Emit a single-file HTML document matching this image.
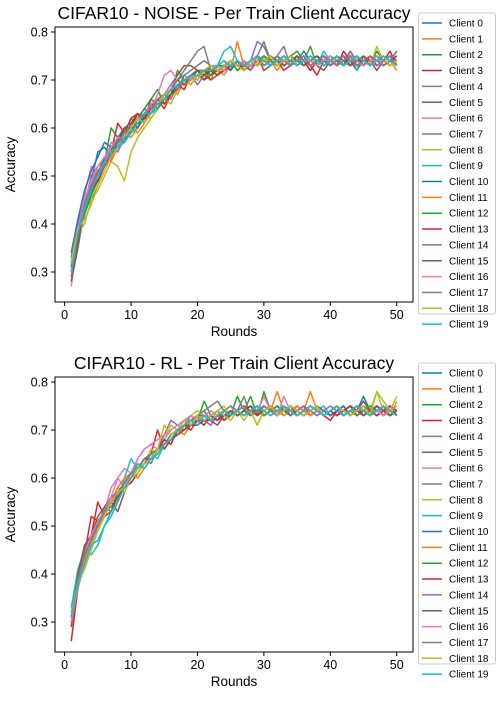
<!DOCTYPE html>
<html><head><meta charset="utf-8"><style>
body{margin:0;background:#fff;width:500px;height:700px;overflow:hidden}
svg{font-family:"Liberation Sans","DejaVu Sans",sans-serif}
</style></head><body>
<svg id="s" width="500" height="700" viewBox="0 0 500 700"></svg>
<script>
const rounds=[];for(let i=1;i<=50;i++)rounds.push(i);
const xTicks=[0,10,20,30,40,50];
const yTicks=[0.3,0.4,0.5,0.6,0.7,0.8];
const yTickLabels=["0.3","0.4","0.5","0.6","0.7","0.8"];
const clientNames=["Client 0","Client 1","Client 2","Client 3","Client 4","Client 5","Client 6","Client 7","Client 8","Client 9","Client 10","Client 11","Client 12","Client 13","Client 14","Client 15","Client 16","Client 17","Client 18","Client 19"];
const noiseSeries=[
[33,40,45,49,55,56,54,57,60,59,62,64,63,66,67,69,68,70,71,70,72,71,73,72,74,73,72,74,75,74,73,74,75,73,74,76,74,73,74,75,74,73,74,75,73,74,75,74,73,74],
[30,38,44,47,50,53,55,57,59,58,60,63,62,64,66,68,67,70,69,71,72,70,73,74,72,78,73,74,75,73,74,72,74,75,73,74,73,74,75,74,73,74,76,73,74,74,75,73,74,72],
[31,39,43,45,48,53,60,58,57,61,62,64,66,68,65,67,72,70,69,71,70,72,71,73,74,72,73,74,73,75,74,73,74,75,76,74,77,73,74,75,73,74,73,75,74,73,76,74,73,74],
[29,37,42,47,51,52,55,61,59,62,63,61,65,66,64,67,69,68,71,72,70,71,72,73,72,74,73,72,74,75,73,74,72,73,74,75,73,71,74,75,73,76,74,72,75,74,73,74,76,73],
[32,40,44,50,52,53,56,55,58,61,60,63,65,64,67,66,69,70,71,69,71,72,71,72,73,74,72,74,78,77,74,75,73,74,75,74,72,74,73,74,75,73,76,74,73,74,75,73,74,75],
[28,35,43,47,50,54,53,58,57,60,63,62,66,65,67,69,71,73,73,72,71,70,71,73,74,73,72,74,75,72,73,74,75,73,74,75,74,73,72,74,75,73,74,75,73,74,72,74,75,74],
[27,38,46,52,51,53,57,56,59,60,62,61,64,67,71,72,70,69,70,71,72,73,72,71,73,74,73,74,73,74,75,74,73,74,74,73,74,75,73,74,75,74,73,74,75,73,74,75,73,74],
[30,36,42,46,49,52,55,57,58,59,61,62,64,65,67,68,70,72,74,76,77,72,71,73,72,74,72,73,75,78,74,75,77,73,74,75,73,74,75,74,73,74,75,73,74,75,74,73,74,76],
[31,38,40,45,47,50,53,52,49,55,58,60,62,64,66,65,68,70,69,71,71,72,73,71,74,73,72,74,73,74,75,73,74,75,73,74,75,73,74,73,75,74,73,74,75,73,77,74,73,74],
[29,37,43,48,50,52,54,56,57,59,60,62,63,64,66,68,69,70,70,71,72,72,73,76,77,74,73,74,75,74,73,75,74,73,74,75,74,73,76,74,73,74,75,72,74,75,73,74,75,73],
[34,41,47,51,54,57,56,58,60,60,61,62,64,65,66,67,69,70,71,70,72,72,73,73,72,74,73,74,73,75,74,73,74,75,74,73,74,75,74,73,74,75,73,74,74,75,73,74,75,74],
[30,38,44,48,52,54,53,56,59,60,59,61,63,66,66,68,69,69,70,71,71,72,73,72,74,73,74,73,74,75,73,74,75,73,74,75,74,73,74,75,73,74,75,73,74,75,74,73,74,74],
[32,39,42,46,50,53,55,58,58,59,62,63,65,64,66,67,68,71,70,72,72,71,73,73,74,72,73,74,73,75,74,73,74,73,75,74,73,74,75,73,74,73,75,74,73,74,75,73,74,75],
[31,37,43,47,49,52,54,57,60,61,63,62,64,66,65,67,69,70,71,72,71,72,71,72,73,74,72,74,73,74,73,74,75,74,73,74,72,74,75,73,74,75,73,74,73,75,74,73,74,75],
[33,40,45,48,50,52,55,57,58,60,62,63,64,65,67,69,68,70,71,70,72,73,72,73,74,73,74,72,75,73,74,75,73,74,75,74,73,74,75,73,74,75,74,73,74,75,73,74,75,73],
[28,36,44,48,51,53,55,57,59,62,60,63,64,66,67,68,70,69,71,72,71,73,72,73,74,73,72,74,73,74,75,74,73,74,75,73,74,75,73,74,75,74,73,74,75,73,74,75,74,73],
[30,39,45,49,52,54,56,58,58,60,62,63,65,66,67,69,70,71,70,71,72,73,73,72,74,73,74,73,75,74,73,74,75,73,74,75,74,73,74,75,73,74,75,74,73,74,75,73,74,73],
[29,38,44,48,51,53,55,57,59,60,62,63,64,66,67,68,70,71,72,73,74,73,72,73,74,73,72,74,75,73,74,75,74,73,74,75,73,74,75,74,73,74,75,73,74,75,74,73,74,76],
[32,39,41,44,48,51,54,56,58,60,62,61,63,65,67,68,69,70,71,70,72,73,72,73,74,73,72,74,73,74,75,73,74,75,73,74,75,74,73,74,75,73,74,75,74,73,74,75,73,74],
[30,38,43,47,50,53,55,56,58,59,61,63,63,65,66,68,69,70,71,71,72,72,73,74,73,74,73,74,75,74,73,74,75,74,73,74,75,74,73,74,75,73,74,75,74,73,74,75,74,73]];
const rlSeries=[
[31,39,44,48,51,53,56,57,59,60,62,63,64,66,67,68,69,70,71,71,72,72,73,73,73,74,73,74,74,73,74,73,74,74,73,74,73,74,73,74,73,74,73,74,77,74,73,74,73,74],
[30,38,43,47,50,52,55,58,60,59,61,63,64,65,67,68,70,69,71,72,72,71,73,74,73,74,73,74,75,73,74,78,74,73,75,74,78,74,73,74,75,73,74,73,74,75,74,73,75,74],
[32,40,44,47,50,53,54,56,59,61,62,64,65,66,68,67,70,71,73,72,76,73,72,74,73,77,74,77,73,78,74,73,75,74,73,74,75,74,73,74,73,74,75,73,74,73,74,75,73,74],
[26,37,45,48,55,52,53,57,58,59,61,63,65,70,66,68,69,71,70,72,71,73,72,74,73,74,73,74,75,73,74,74,75,73,74,75,73,74,73,72,74,75,73,74,75,74,73,74,75,73],
[33,39,44,47,50,52,55,56,58,60,62,63,64,66,69,72,71,70,72,73,72,71,73,72,74,73,74,75,74,73,74,75,74,73,74,75,74,73,74,73,74,75,73,74,73,74,75,74,73,74],
[29,38,46,47,51,53,55,53,57,60,62,64,65,66,67,69,70,72,71,73,72,73,74,72,73,74,75,74,73,75,74,73,74,75,74,73,74,75,73,74,73,74,75,74,76,74,73,74,75,73],
[30,37,42,46,50,53,58,60,62,61,64,66,67,66,68,70,71,72,72,73,74,72,73,74,75,73,74,75,73,74,75,74,73,74,75,74,73,74,73,74,75,73,74,75,74,73,74,73,75,74],
[31,38,43,47,50,52,55,57,59,60,62,64,63,66,67,69,70,71,72,73,74,72,73,74,75,74,77,73,74,77,74,73,75,74,73,74,75,74,73,74,73,74,75,73,74,73,75,74,73,74],
[32,39,42,46,49,53,55,58,57,60,61,63,66,65,68,71,70,72,73,74,73,72,74,75,73,74,72,74,71,74,75,73,74,75,74,73,74,75,73,74,73,74,75,74,73,74,78,74,73,76],
[33,41,45,44,46,50,52,55,60,64,62,63,65,64,67,68,69,70,71,72,72,73,74,73,74,73,74,75,74,73,74,75,73,74,75,74,73,74,75,73,74,73,74,75,74,73,74,75,73,74],
[31,38,44,48,51,53,55,57,59,60,62,63,64,66,67,68,70,70,71,72,72,73,72,73,74,73,74,73,74,75,74,73,74,75,74,73,74,75,74,73,74,75,73,74,73,74,75,74,73,74],
[30,37,43,47,50,53,55,58,60,61,60,62,64,66,67,68,69,71,72,71,73,72,73,74,73,74,73,74,75,73,74,75,73,74,75,74,73,74,73,74,75,73,74,75,74,73,74,75,73,74],
[31,39,44,48,51,53,56,57,59,61,63,62,64,66,67,69,70,71,72,73,73,72,73,74,73,74,73,74,75,73,74,75,74,73,74,73,74,75,73,74,75,73,74,73,74,75,74,73,74,73],
[30,38,44,52,51,53,55,57,58,60,62,63,64,66,68,67,70,71,71,72,72,73,72,73,74,73,74,75,73,74,75,73,74,75,74,73,74,75,73,74,73,74,75,74,73,74,73,74,75,74],
[32,39,45,48,50,54,56,57,59,60,62,63,65,66,67,69,70,71,72,72,73,72,73,74,73,74,73,74,75,74,73,74,75,73,74,75,74,73,74,75,74,73,74,75,73,74,75,73,74,73],
[29,40,46,48,52,54,53,56,58,60,62,64,64,66,67,68,69,70,71,72,73,72,71,73,74,73,74,73,74,75,74,73,74,75,73,74,75,74,73,74,75,73,74,75,73,74,75,74,73,74],
[30,38,44,48,51,53,56,60,58,61,64,66,67,68,69,70,71,72,73,72,73,74,73,74,73,74,75,73,74,77,74,73,77,74,73,74,75,74,73,74,75,73,74,75,74,73,74,73,74,75],
[31,39,44,47,50,53,55,57,59,61,62,64,65,66,67,69,70,71,72,73,74,75,76,74,73,74,75,73,74,75,74,73,74,75,74,73,74,75,73,74,75,74,73,74,75,73,74,75,74,73],
[32,38,41,45,49,52,55,57,58,60,62,63,64,66,71,69,70,72,71,73,72,73,74,73,72,74,73,74,71,74,75,73,74,75,74,73,74,75,73,74,75,74,73,74,75,73,78,76,74,77],
[31,38,42,46,47,50,53,55,58,60,63,62,64,65,67,68,70,71,72,71,73,72,73,74,73,74,73,74,75,74,73,74,75,74,73,74,75,74,73,74,75,73,74,75,74,73,74,75,74,73]];
const colors=["#1f77b4","#ff7f0e","#2ca02c","#d62728","#9467bd","#8c564b","#e377c2","#7f7f7f","#bcbd22","#17becf"];
const NS="http://www.w3.org/2000/svg";
const svg=document.getElementById('s');
function mk(tag,attrs,parent){const e=document.createElementNS(NS,tag);for(const k in attrs)e.setAttribute(k,attrs[k]);(parent||svg).appendChild(e);return e;}
function chart(series,title,top,key){
  const L=55,R=413,T=top,B=top+275;
  const xmin=-1.45,xmax=52.45,ymin=0.2375,ymax=0.8104;
  const sx=v=>L+(v-xmin)/(xmax-xmin)*(R-L);
  const sy=v=>B-(v-ymin)/(ymax-ymin)*(B-T);
  const g=mk('g',{});
  
  
  const t=mk('text',{x:(L+R)/2+0,y:T-8,'text-anchor':'middle','font-size':'17.5',fill:'#000'},g);
  
  
  t.textContent=title;
  const clip=mk('clipPath',{id:'c'+key},g);mk('rect',{x:L,y:T,width:R-L,height:B-T},clip);
  const lines=mk('g',{'clip-path':'url(#c'+key+')'},g);
  series.forEach((s,i)=>{
    const d=s.map((v,j)=>(j?'L':'M')+sx(rounds[j]).toFixed(2)+','+sy(v/100).toFixed(2)).join('');
    const p=mk('path',{d:d,fill:'none',stroke:colors[i%10],'stroke-width':'1.5','stroke-linejoin':'round'},lines);
    
    
  });
  const fr=mk('rect',{x:L,y:T,width:R-L,height:B-T,fill:'none',stroke:'#000','stroke-width':'1'},g);
  
  
  xTicks.forEach(v=>{const x=sx(v);mk('line',{x1:x,x2:x,y1:B,y2:B+4,stroke:'#000'},g);
    const tx=mk('text',{x:x,y:B+17,'text-anchor':'middle','font-size':'12.5'},g);
    
    
    tx.textContent=v;});
  yTicks.forEach((v,i)=>{const y=sy(v);mk('line',{x1:L-4,x2:L,y1:y,y2:y,stroke:'#000'},g);
    const ty=mk('text',{x:L-7,y:y+4.5,'text-anchor':'end','font-size':'12.5'},g);
    
    
    ty.textContent=yTickLabels[i];});
  const xl=mk('text',{x:(L+R)/2,y:B+34,'text-anchor':'middle','font-size':'13.5'},g);
  
  
  xl.textContent='Rounds';
  const yl=mk('text',{x:0,y:0,'text-anchor':'middle','font-size':'13.5',transform:'translate(15,'+((T+B)/2)+') rotate(-90)'},g);
  
  
  yl.textContent='Accuracy';
  const lg=mk('g',{},g);
  
  
  const ly=T-14;
  mk('rect',{x:418.5,y:ly,width:77,height:301,rx:2,fill:'#fff',stroke:'#ccc'},lg);
  clientNames.forEach((n,i)=>{const y=ly+10+i*15.85;
    const e=mk('g',{},lg);
    
    
    mk('line',{x1:422,x2:442,y1:y,y2:y,stroke:colors[i%10],'stroke-width':'1.5'},e);
    const tt=mk('text',{x:449,y:y+3.5,'font-size':'10'},e);tt.textContent=n;});
}
chart(noiseSeries,'CIFAR10 - NOISE - Per Train Client Accuracy',27,'noise');
chart(rlSeries,'CIFAR10 - RL - Per Train Client Accuracy',377,'rl');
</script>
</body></html>
